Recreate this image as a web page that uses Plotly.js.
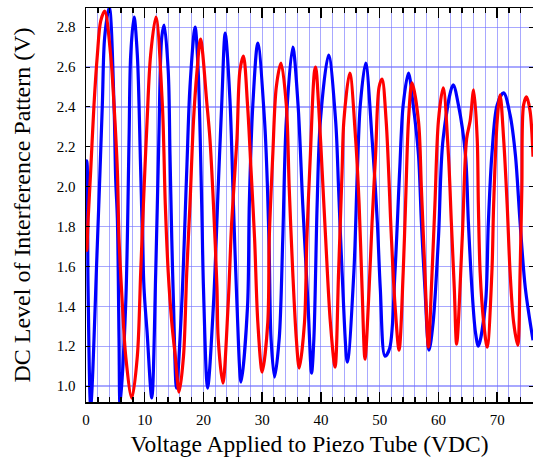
<!DOCTYPE html>
<html>
<head>
<meta charset="utf-8">
<script src="https://cdn.plot.ly/plotly-3.0.1.min.js"></script>
<style>html,body{margin:0;padding:0;background:#fff;}#chart{width:533px;height:464px;}</style>
</head>
<body>
<div id="chart"></div>
<script>
var blueX = [0, 0.15, 0.35, 0.8, 1.93, 2.78, 3.18, 3.97, 4.77, 5.05, 5.34, 5.62, 5.8, 6.76, 7.33, 7.61, 8.18, 8.74, 9.31, 9.88, 10.4, 11.2, 11.87, 12.4, 12.9, 13.3, 14.0, 14.3, 14.6, 14.9, 15.4, 16.3, 17.15, 17.7, 18.57, 19.1, 19.7, 20.0, 20.7, 21.7, 22.5, 23.1, 23.7, 24.5, 25.1, 25.7, 26.4, 27.5, 27.8, 28.4, 29.25, 30.4, 30.9, 31.2, 31.5, 32.1, 32.9, 33.5, 34.1, 35.2, 36.1, 36.9, 37.8, 38.4, 38.8, 39.35, 39.9, 41.3, 42.5, 43.0, 43.6, 44.5, 45.6, 46.2, 46.7, 47.6, 48.7, 49.6, 50.1, 50.9, 51.7, 52.6, 53.4, 54.0, 54.9, 55.7, 56.6, 57.1, 57.7, 58.4, 59.1, 60.0, 60.8, 62.5, 63.4, 64.6, 65.1, 65.7, 66.3, 66.8, 68.0, 68.5, 69.1, 70.0, 71.1, 72.2, 73.1, 73.9, 74.8, 76.1];
var blueY = [2.10, 2.13, 1.50, 0.90, 1.71, 2.41, 2.75, 2.90, 2.41, 2.04, 1.84, 1.24, 0.90, 1.41, 2.24, 2.66, 2.85, 2.66, 2.08, 1.49, 1.27, 0.94, 1.57, 2.24, 2.75, 2.81, 2.58, 2.16, 1.74, 1.41, 0.99, 1.41, 2.08, 2.50, 2.80, 2.58, 1.91, 1.49, 0.99, 1.41, 1.99, 2.41, 2.77, 2.44, 1.91, 1.41, 1.02, 1.40, 1.91, 2.41, 2.72, 2.33, 1.99, 1.66, 1.24, 1.045, 1.24, 1.74, 2.33, 2.70, 2.41, 1.91, 1.41, 1.065, 1.24, 1.91, 2.33, 2.66, 2.33, 1.99, 1.57, 1.12, 1.57, 2.08, 2.41, 2.62, 2.24, 1.82, 1.49, 1.15, 1.19, 1.57, 2.08, 2.41, 2.57, 2.41, 2.16, 1.82, 1.49, 1.18, 1.32, 1.74, 2.24, 2.51, 2.41, 2.16, 1.82, 1.49, 1.27, 1.20, 1.41, 1.82, 2.16, 2.41, 2.47, 2.36, 2.16, 1.82, 1.49, 1.23];

var redX = [0, 0.15, 0.3, 0.8, 1.36, 1.93, 2.5, 3.18, 4.2, 4.77, 5.34, 5.62, 6.19, 6.76, 7.8, 8.74, 9.31, 9.77, 10.4, 11.0, 11.9, 13.0, 13.5, 14.0, 14.6, 15.2, 15.85, 16.6, 17.15, 17.7, 18.3, 18.9, 19.5, 20.6, 21.1, 21.7, 22.3, 22.5, 23.3, 24.2, 24.8, 25.7, 26.2, 26.8, 27.5, 28.1, 28.7, 29.25, 30.0, 30.95, 31.2, 31.8, 32.4, 33.2, 34.1, 34.6, 35.2, 35.8, 36.3, 37.2, 37.6, 38.2, 38.9, 39.1, 39.6, 40.2, 40.8, 41.6, 42.4, 43.0, 43.6, 43.9, 44.9, 45.9, 46.5, 47.0, 47.5, 48.2, 48.7, 49.3, 49.9, 50.4, 51.1, 52.0, 52.6, 53.3, 54.0, 54.4, 54.9, 55.5, 56.6, 57.1, 57.7, 58.3, 58.8, 59.4, 60.0, 60.8, 61.7, 62.2, 62.7, 63.1, 64.05, 64.8, 65.4, 66.0, 66.6, 66.8, 67.1, 67.7, 68.3, 69.1, 69.4, 70.0, 70.5, 71.1, 71.7, 72.2, 72.8, 73.5, 73.9, 74.2, 74.5, 75.0, 75.6, 76.1];
var redY = [1.75, 1.68, 1.80, 2.08, 2.41, 2.66, 2.83, 2.88, 2.66, 2.41, 2.08, 1.74, 1.41, 1.15, 0.94, 1.15, 1.57, 1.91, 2.33, 2.66, 2.85, 2.41, 1.91, 1.57, 1.32, 1.15, 0.97, 1.15, 1.57, 1.91, 2.33, 2.58, 2.74, 2.41, 2.24, 1.91, 1.49, 1.24, 1.015, 1.41, 1.82, 2.24, 2.58, 2.655, 2.41, 2.08, 1.74, 1.32, 1.07, 1.32, 1.74, 2.16, 2.50, 2.62, 2.41, 1.99, 1.57, 1.24, 1.09, 1.32, 1.74, 2.16, 2.58, 2.60, 2.41, 2.08, 1.74, 1.32, 1.095, 1.57, 2.08, 2.33, 2.57, 2.24, 1.91, 1.49, 1.135, 1.49, 1.82, 2.16, 2.50, 2.54, 2.33, 1.74, 1.41, 1.18, 1.57, 1.91, 2.33, 2.52, 2.33, 1.99, 1.57, 1.195, 1.49, 1.91, 2.33, 2.495, 2.16, 1.82, 1.49, 1.21, 1.74, 2.24, 2.33, 2.485, 2.24, 1.91, 1.57, 1.32, 1.195, 1.57, 1.91, 2.33, 2.46, 2.24, 1.91, 1.57, 1.32, 1.205, 1.57, 1.99, 2.41, 2.45, 2.38, 2.15];

var xTitle = "Voltage Applied to Piezo Tube (VDC)";
var yTitle = "DC Level of Interference Pattern (V)";

var serif = "Liberation Serif, Times New Roman, serif";
var gridCol = "rgba(110,110,255,0.6)";

var traces = [
  {x: blueX, y: blueY, mode: "lines", line: {color: "#0000ff", width: 3.2, shape: "spline", smoothing: 0.9}, hoverinfo: "none"},
  {x: redX, y: redY, mode: "lines", line: {color: "#ff0000", width: 3.2, shape: "spline", smoothing: 0.9}, hoverinfo: "none"}
];

var layout = {
  width: 533, height: 464,
  margin: {l: 86, r: 0, t: 8, b: 62},
  paper_bgcolor: "#fff", plot_bgcolor: "#fff",
  showlegend: false,
  font: {family: serif, size: 15, color: "#000"},
  xaxis: {
    range: [0, 76.1], dtick: 10, tick0: 0,
    showgrid: true, gridcolor: gridCol, gridwidth: 1,
    zeroline: false,
    showline: true, linecolor: "#000", linewidth: 1.5, mirror: "ticks",
    ticks: "inside", ticklen: 10, tickwidth: 1.5, tickcolor: "#000",
    minor: {dtick: 2, showgrid: true, gridcolor: gridCol, gridwidth: 1, ticks: "inside", ticklen: 5, tickwidth: 1.5, tickcolor: "#000"},
    tickfont: {family: serif, size: 15},
    ticklabelstandoff: 3,
    title: {text: xTitle, font: {family: serif, size: 23.5}, standoff: 9}
  },
  yaxis: {
    range: [0.92, 2.896], dtick: 0.2, tick0: 0, tickformat: ".1f",
    showgrid: true, gridcolor: gridCol, gridwidth: 1.2,
    zeroline: false,
    showline: true, linecolor: "#000", linewidth: 1.5, mirror: "ticks",
    ticks: "inside", ticklen: 4, tickwidth: 1, tickcolor: "#000",
    tickfont: {family: serif, size: 15},
    ticklabelstandoff: 6,
    title: {text: yTitle, font: {family: serif, size: 24}, standoff: 19}
  }
};

Plotly.newPlot("chart", traces, layout, {staticPlot: true, displayModeBar: false});
</script>
</body>
</html>
